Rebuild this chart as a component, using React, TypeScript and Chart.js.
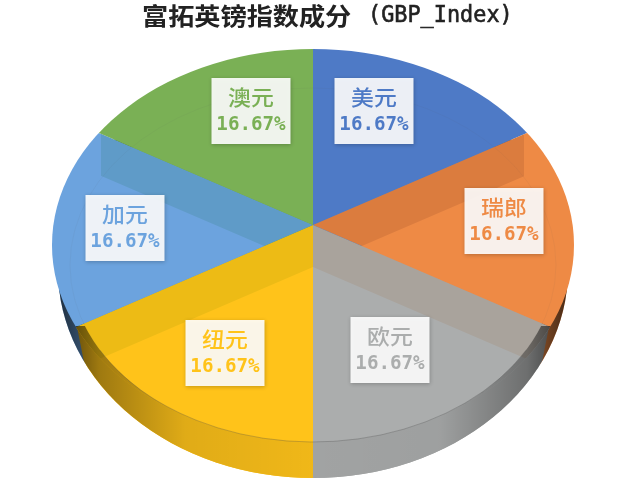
import React, { useEffect, useRef } from "react";
import { Chart, registerables } from "chart.js";

Chart.register(...registerables);

const categories = ["美元", "瑞郎", "欧元", "纽元", "加元", "澳元"];
const shares = [16.67, 16.67, 16.67, 16.67, 16.67, 16.67];
const colours = ["#4E7AC6", "#EE8A45", "#ABADAD", "#FFC31A", "#6CA3DE", "#7AB055"];
const bandTints = ["#FFFFFF", "#EBE6E6", "#FCF0E6", "#EDF5CC", "#E0F2E6", "#FFFFFF"];
const titleCn = "富拓英镑指数成分";
const titleEn = "(GBP_Index)";

const APEX = { x: 313, y: 225 };
const FACE = { x: 313, y: 245, rx: 261, ry: 196 };
const INNER = { x: 313, y: 265, rx: 243, ry: 177 };
const OUTER = { x: 313, y: 270, rx: 255, ry: 208 };
const DEPTH = 42;
const TILT = 0.745;
const REACH = 430;
const STRETCH = 1.09;
const CORNER_Y = 326;
const LABEL_OFFSETS = [
  [61, -114],
  [191, -4],
  [77, 125],
  [-88, 128],
  [-188, 3],
  [-62, -114],
];

type Oval = { x: number; y: number; rx: number; ry: number };

const pie3d = {
  id: "pie3d",
  beforeDatasetsDraw(chart: any) {
    const ctx: CanvasRenderingContext2D = chart.ctx;
    const arcs = chart.getDatasetMeta(0).data;
    const drawWedges = (dy: number) => {
      arcs.forEach((arc: any) => {
        const k = REACH / arc.outerRadius;
        ctx.save();
        ctx.translate(APEX.x, APEX.y + dy);
        ctx.scale(k, k * TILT);
        ctx.translate(-arc.x, -arc.y);
        arc.draw(ctx);
        ctx.restore();
      });
    };
    const oval = (o: Oval) => {
      ctx.beginPath();
      ctx.ellipse(o.x, o.y, o.rx, o.ry, 0, 0, Math.PI * 2);
    };
    const outside = (o: Oval) => {
      ctx.beginPath();
      ctx.rect(0, 0, 640, 480);
      ctx.ellipse(o.x, o.y, o.rx, o.ry, 0, 0, Math.PI * 2);
      ctx.clip("evenodd");
    };
    const wedgePath = (arc: any, dy: number) => {
      ctx.save();
      ctx.translate(APEX.x, APEX.y + dy);
      ctx.scale(1, TILT);
      ctx.moveTo(0, 0);
      ctx.arc(0, 0, REACH, arc.startAngle, arc.endAngle);
      ctx.closePath();
      ctx.restore();
    };
    const text = (s: string, x: number, y: number, font: string, sx = 1, embolden = 0) => {
      ctx.save();
      ctx.translate(x, y);
      ctx.scale(sx, 1);
      ctx.font = font;
      ctx.fillText(s, 0, 0);
      if (embolden) {
        ctx.strokeStyle = ctx.fillStyle;
        ctx.lineWidth = embolden;
        ctx.strokeText(s, 0, 0);
      }
      ctx.restore();
    };
    const wallShade = () => {
      const g = ctx.createLinearGradient(OUTER.x - OUTER.rx, 0, OUTER.x + OUTER.rx, 0);
      g.addColorStop(0, "rgba(0,0,0,0.72)");
      g.addColorStop(0.08, "rgba(0,0,0,0.38)");
      g.addColorStop(0.25, "rgba(0,0,0,0.12)");
      g.addColorStop(0.5, "rgba(0,0,0,0.06)");
      g.addColorStop(0.75, "rgba(0,0,0,0.08)");
      g.addColorStop(0.92, "rgba(0,0,0,0.36)");
      g.addColorStop(1, "rgba(0,0,0,0.7)");
      ctx.fillStyle = g;
      ctx.fillRect(0, 0, 640, 480);
    };

    // wall
    ctx.save();
    oval(OUTER);
    ctx.clip();
    drawWedges(DEPTH);
    ctx.save();
    ctx.beginPath();
    ctx.moveTo(77, 327);
    ctx.lineTo(86, 372);
    ctx.lineTo(86, 480);
    ctx.lineTo(540, 480);
    ctx.lineTo(540, 372);
    ctx.lineTo(549, 327);
    ctx.closePath();
    ctx.clip();
    drawWedges(0);
    ctx.restore();
    outside(INNER);
    wallShade();
    ctx.restore();

    // top face
    ctx.save();
    oval(FACE);
    ctx.clip();
    drawWedges(0);

    // where a wedge lies over its neighbour's underside it looks darker
    arcs.forEach((arc: any, i: number) => {
      ctx.save();
      ctx.beginPath();
      wedgePath(arc, 0);
      ctx.clip();
      ctx.beginPath();
      ctx.rect(0, 0, 640, 480);
      wedgePath(arc, DEPTH);
      ctx.clip("evenodd");
      ctx.beginPath();
      ctx.rect(101, 0, 423, APEX.y);
      ctx.rect(0, APEX.y, 640, 480 - APEX.y);
      ctx.clip();
      ctx.globalCompositeOperation = "multiply";
      ctx.fillStyle = bandTints[i];
      ctx.fillRect(0, 0, 640, 480);
      ctx.restore();
    });

    // shaded front corners of the top face
    ctx.save();
    ctx.beginPath();
    ctx.rect(0, CORNER_Y, 640, 480 - CORNER_Y);
    ctx.clip();
    outside(INNER);
    wallShade();
    ctx.restore();
    ctx.restore();

    // faint outline of the underside
    oval(INNER);
    ctx.strokeStyle = "rgba(80,80,80,0.06)";
    ctx.lineWidth = 1;
    ctx.stroke();
    ctx.beginPath();
    ctx.ellipse(INNER.x, INNER.y, INNER.rx, INNER.ry, 0, 0.16 * Math.PI, 0.84 * Math.PI);
    ctx.strokeStyle = "rgba(70,70,70,0.25)";
    ctx.stroke();

    // title
    ctx.save();
    ctx.fillStyle = "#222222";
    ctx.textAlign = "left";
    ctx.textBaseline = "middle";
    text(titleCn, 142, 16, 'bold 24px "Noto Sans CJK SC"', STRETCH);
    text(titleEn, 368, 16, '23px "DejaVu Sans Mono", monospace', 0.95, 0.6);
    ctx.restore();

    // labels
    categories.forEach((name, i) => {
      const cx = APEX.x + LABEL_OFFSETS[i][0];
      const cy = APEX.y + LABEL_OFFSETS[i][1];
      ctx.save();
      ctx.shadowColor = "rgba(0,0,0,0.25)";
      ctx.shadowBlur = 4;
      ctx.shadowOffsetY = 1;
      ctx.fillStyle = "rgba(255,255,255,0.9)";
      ctx.fillRect(cx - 39.5, cy - 33, 79, 66);
      ctx.restore();
      ctx.save();
      ctx.fillStyle = colours[i];
      ctx.textAlign = "center";
      ctx.textBaseline = "middle";
      text(name, cx, cy - 14, '500 21px "Noto Sans CJK SC"', STRETCH);
      text(shares[i].toFixed(2) + "%", cx, cy + 14, 'bold 20px "DejaVu Sans Mono", monospace', 0.96);
      ctx.restore();
    });
    return false;
  },
};

export default function App() {
  const ref = useRef<HTMLCanvasElement | null>(null);
  useEffect(() => {
    const chart = new Chart(ref.current as HTMLCanvasElement, {
      type: "pie",
      data: {
        labels: categories,
        datasets: [{ data: shares, backgroundColor: colours, borderWidth: 0 }],
      },
      options: {
        animation: false,
        responsive: false,
        plugins: {
          legend: { display: false },
          tooltip: { enabled: false },
        },
      },
      plugins: [pie3d],
    } as any);
    return () => chart.destroy();
  }, []);
  return (
    <div style={{ position: "absolute", left: 0, top: 0, width: 640, height: 480, background: "#fff" }}>
      <canvas ref={ref} width={640} height={480} style={{ display: "block", filter: "blur(0.5px)" }} />
    </div>
  );
}
